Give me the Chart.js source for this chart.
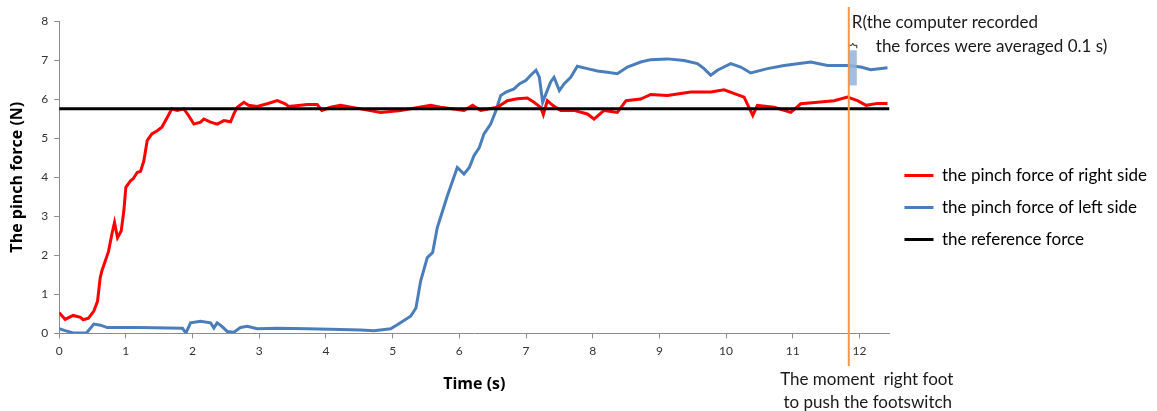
<!DOCTYPE html>
<html>
<head>
<meta charset="utf-8">
<script src="https://cdn.jsdelivr.net/npm/chart.js@4.4.1/dist/chart.umd.min.js"></script>
<style>
  html, body { margin: 0; padding: 0; background: #fff; }
  #wrap { width: 1157px; height: 411px; position: relative; }
</style>
</head>
<body>
<div id="wrap"><canvas id="chart-line"></canvas></div>
<script>
// pinch force of right side (red)
var rightTime = [0.0, 0.09, 0.21, 0.32, 0.36, 0.44, 0.52, 0.575, 0.615, 0.64, 0.69, 0.74, 0.79, 0.83, 0.875, 0.93, 0.97, 1.0,
  1.07, 1.11, 1.17, 1.22, 1.27, 1.32, 1.39, 1.47, 1.54, 1.62, 1.69, 1.77, 1.87, 1.94, 2.02, 2.12, 2.17, 2.27, 2.37, 2.47,
  2.57, 2.62, 2.67, 2.77, 2.84, 2.97, 3.12, 3.27, 3.39, 3.44, 3.62, 3.72, 3.87, 3.94, 4.07, 4.22, 4.52, 4.82, 5.12, 5.57,
  5.72, 6.07, 6.2, 6.32, 6.57, 6.72, 6.87, 7.02, 7.12, 7.22, 7.26, 7.32, 7.4, 7.52, 7.72, 7.92, 8.02, 8.17, 8.37, 8.5,
  8.72, 8.87, 9.12, 9.47, 9.77, 9.97, 10.27, 10.4, 10.47, 10.72, 10.97, 11.12, 11.37, 11.62, 11.82, 11.97, 12.1, 12.27, 12.42];
var rightForce = [0.53, 0.36, 0.46, 0.41, 0.35, 0.39, 0.57, 0.82, 1.42, 1.6, 1.85, 2.1, 2.54, 2.84, 2.45, 2.62, 3.14, 3.74,
  3.91, 3.96, 4.12, 4.15, 4.42, 4.94, 5.11, 5.19, 5.28, 5.53, 5.75, 5.71, 5.75, 5.58, 5.36, 5.41, 5.49, 5.41, 5.36, 5.45,
  5.42, 5.62, 5.79, 5.92, 5.84, 5.81, 5.88, 5.96, 5.88, 5.81, 5.84, 5.86, 5.86, 5.71, 5.79, 5.84, 5.75, 5.66, 5.71, 5.84,
  5.79, 5.71, 5.84, 5.71, 5.79, 5.96, 6.01, 6.03, 5.92, 5.79, 5.6, 5.96, 5.84, 5.71, 5.71, 5.62, 5.49, 5.71, 5.66, 5.96,
  6.0, 6.12, 6.09, 6.18, 6.18, 6.24, 6.05, 5.58, 5.84, 5.79, 5.66, 5.88, 5.92, 5.96, 6.05, 5.96, 5.84, 5.89, 5.89];

// pinch force of left side (blue)
var leftTime = [0.0, 0.09, 0.21, 0.41, 0.52, 0.62, 0.72, 1.2, 1.85, 1.9, 1.97, 2.12, 2.27, 2.32, 2.37, 2.44, 2.52, 2.62,
  2.72, 2.82, 2.97, 3.27, 3.72, 4.22, 4.52, 4.72, 4.97, 5.07, 5.27, 5.35, 5.42, 5.52, 5.6, 5.67, 5.75, 5.82, 5.9, 5.97,
  6.07, 6.15, 6.22, 6.3, 6.37, 6.47, 6.55, 6.62, 6.7, 6.82, 6.9, 7.0, 7.07, 7.15, 7.2, 7.25, 7.3, 7.37, 7.42, 7.5, 7.57,
  7.67, 7.77, 7.92, 8.07, 8.22, 8.37, 8.52, 8.72, 8.87, 9.12, 9.37, 9.57, 9.67, 9.77, 9.87, 10.07, 10.22, 10.37, 10.62,
  10.87, 11.27, 11.52, 11.82, 12.02, 12.17, 12.42];
var leftForce = [0.12, 0.07, 0.01, 0.01, 0.24, 0.21, 0.15, 0.15, 0.13, 0.01, 0.27, 0.31, 0.27, 0.14, 0.27, 0.18, 0.05, 0.03,
  0.15, 0.18, 0.12, 0.13, 0.12, 0.1, 0.09, 0.07, 0.12, 0.22, 0.44, 0.65, 1.34, 1.94, 2.07, 2.71, 3.14, 3.52, 3.91, 4.25,
  4.08, 4.25, 4.55, 4.76, 5.11, 5.36, 5.71, 6.09, 6.18, 6.26, 6.39, 6.48, 6.61, 6.74, 6.56, 5.92, 6.14, 6.44, 6.56, 6.22, 6.39,
  6.56, 6.84, 6.78, 6.72, 6.69, 6.65, 6.82, 6.95, 7.01, 7.03, 6.99, 6.91, 6.78, 6.61, 6.74, 6.91, 6.82, 6.67, 6.78,
  6.86, 6.95, 6.86, 6.86, 6.82, 6.75, 6.8];

// reference force (constant)
var refTime = [0, 12.45];
var refForce = [5.75, 5.75];

var seriesNames = ["the pinch force of right side", "the pinch force of left side", "the reference force"];
var seriesColors = ["#ff0000", "#4a7ebb", "#000000"];

var xTicksMax = 12;
var xMax = 12.45;
var yMax = 8;

// footswitch moment and averaging window
var pushTime = 11.84;
var avgWindow = 0.12;
var windowForce = [6.35, 7.25];

function toPoints(xs, ys) {
  return xs.map(function(x, i) { return { x: x, y: ys[i] }; });
}

var font = "Lato, 'Open Sans', sans-serif";
var titleFont = "'Open Sans', Lato, sans-serif";

var annotations = {
  id: 'annotations',
  afterDatasetsDraw: function(chart) {
    var ctx = chart.ctx;
    var xs = chart.scales.x, ys = chart.scales.y;
    var px = xs.getPixelForValue(pushTime);
    var rx2 = xs.getPixelForValue(pushTime + avgWindow);
    var ry1 = ys.getPixelForValue(windowForce[1]);
    var ry2 = ys.getPixelForValue(windowForce[0]);
    ctx.save();
    // averaging window box
    ctx.fillStyle = 'rgba(149, 179, 215, 0.85)';
    ctx.fillRect(px, ry1, rx2 - px, ry2 - ry1);
    // small brace above it
    ctx.strokeStyle = '#222';
    ctx.lineWidth = 1;
    ctx.beginPath();
    ctx.moveTo(px, ry1 - 2);
    ctx.lineTo(px, ry1 - 5);
    ctx.lineTo(px + 3, ry1 - 5);
    ctx.lineTo(px + 4, ry1 - 7);
    ctx.lineTo(px + 5, ry1 - 5);
    ctx.lineTo(rx2, ry1 - 5);
    ctx.lineTo(rx2, ry1 - 2);
    ctx.stroke();
    // footswitch moment
    ctx.strokeStyle = '#f79646';
    ctx.lineWidth = 2;
    ctx.beginPath();
    ctx.moveTo(px, 7);
    ctx.lineTo(px, 366);
    ctx.stroke();
    // texts
    ctx.fillStyle = '#1a1a1a';
    ctx.font = "17px " + font;
    ctx.textBaseline = 'middle';
    ctx.textAlign = 'left';
    ctx.fillText("R(the computer recorded", px + 3, 23);
    ctx.fillText("the forces were averaged 0.1 s)", px + 27, 47);
    ctx.textAlign = 'center';
    ctx.fillText("The moment  right foot", px + 18, 380);
    ctx.fillText("to push the footswitch", px + 19, 403);
    ctx.restore();
  }
};

var ctx = document.getElementById('chart-line');

var myChart = new Chart(ctx, {
  type: 'line',
  data: {
    datasets: [{
      label: seriesNames[0],
      data: toPoints(rightTime, rightForce),
      borderColor: seriesColors[0],
      backgroundColor: seriesColors[0],
      borderWidth: 3,
      order: 1
    }, {
      label: seriesNames[1],
      data: toPoints(leftTime, leftForce),
      borderColor: seriesColors[1],
      backgroundColor: seriesColors[1],
      borderWidth: 3,
      order: 2
    }, {
      label: seriesNames[2],
      data: toPoints(refTime, refForce),
      borderColor: seriesColors[2],
      backgroundColor: seriesColors[2],
      borderWidth: 3,
      order: 0
    }]
  },
  options: {
    responsive: true,
    maintainAspectRatio: false,
    animation: false,
    elements: {
      point: { radius: 0 },
      line: { tension: 0 }
    },
    layout: {
      padding: { left: 8, right: 0, top: 21, bottom: 17 }
    },
    scales: {
      x: {
        type: 'linear',
        min: 0,
        max: xMax,
        border: { color: '#8c8c8c' },
        grid: { drawOnChartArea: false, color: '#8c8c8c', tickLength: 5 },
        ticks: {
          stepSize: 1,
          includeBounds: false,
          color: '#333',
          font: { family: font, size: 12 },
          maxRotation: 0,
          padding: 6,
          callback: function(v) { return v <= xTicksMax ? v : ''; }
        },
        title: {
          display: true,
          text: 'Time (s)',
          color: '#000',
          font: { family: titleFont, size: 16, weight: 'bold' },
          padding: { top: 10, bottom: 0 }
        }
      },
      y: {
        min: 0,
        max: yMax,
        border: { color: '#8c8c8c' },
        grid: { drawOnChartArea: false, color: '#8c8c8c', tickLength: 5 },
        ticks: {
          stepSize: 1,
          color: '#333',
          font: { family: font, size: 12 },
          padding: 6
        },
        title: {
          display: true,
          text: 'The pinch force (N)',
          color: '#000',
          font: { family: titleFont, size: 16, weight: 'bold' },
          padding: { top: 0, bottom: 8 }
        }
      }
    },
    plugins: {
      legend: {
        position: 'right',
        labels: {
          boxWidth: 29,
          boxHeight: 3,
          padding: 15,
          color: '#1a1a1a',
          font: { family: font, size: 17 },
          sort: function(a, b) { return a.datasetIndex - b.datasetIndex; },
          generateLabels: function(chart) {
            return chart.data.datasets.map(function(ds, i) {
              return {
                text: ds.label,
                fillStyle: ds.borderColor,
                strokeStyle: ds.borderColor,
                lineWidth: 0,
                datasetIndex: i
              };
            });
          }
        }
      },
      tooltip: { enabled: false }
    }
  },
  plugins: [annotations]
});
</script>
</body>
</html>
